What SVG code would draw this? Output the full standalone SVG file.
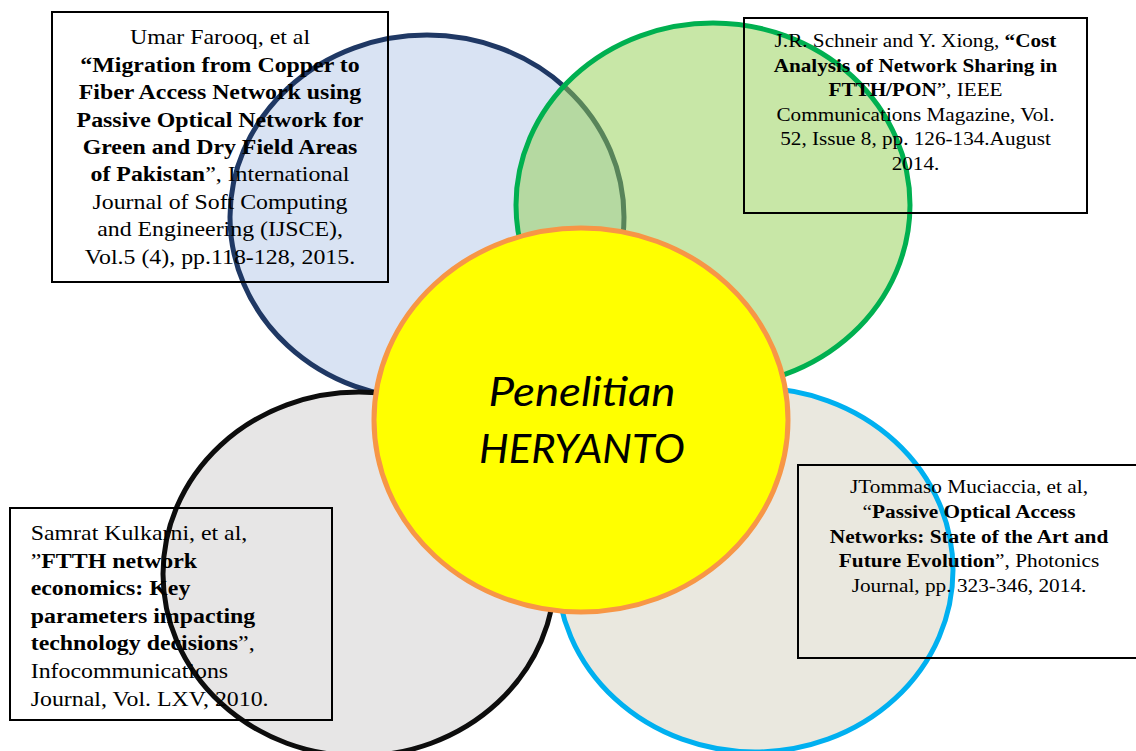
<svg xmlns="http://www.w3.org/2000/svg" width="1136" height="751" viewBox="0 0 1136 751">
<style>
.ref{font-family:"Liberation Serif","Times New Roman",serif;fill:#000}
.b{font-weight:bold}
.box{fill:none;stroke:#000;stroke-width:2}
.ring{stroke-width:5}
.ctr{font-family:Lato,"Open Sans",sans-serif;font-style:italic;font-size:40.5px;fill:#000}
</style>
<rect width="1136" height="751" fill="#fff"/>
<g id="circle-blue"><ellipse class="ring" cx="427" cy="217" rx="197" ry="182" fill="#B4C7E7" fill-opacity="0.5" stroke="#1F3864"/></g>
<g id="circle-green"><ellipse class="ring" cx="713" cy="205" rx="197" ry="182" fill="#92D050" fill-opacity="0.5" stroke="#00B050"/></g>
<g id="circle-grey"><ellipse class="ring" cx="359" cy="574" rx="196" ry="182" fill="#D0CECE" fill-opacity="0.5" stroke="#0D0D0D"/></g>
<g id="circle-cream"><ellipse class="ring" cx="755" cy="570" rx="198" ry="182" fill="#D5D1BF" fill-opacity="0.5" stroke="#00B0F0"/></g>
<g id="center">
<ellipse class="ring" cx="581" cy="420" rx="207" ry="192" fill="#FFFF00" stroke="#F79646"/>
<text class="ctr" x="582" y="406" text-anchor="middle" textLength="187" lengthAdjust="spacingAndGlyphs">Penelitian</text>
<text class="ctr" x="582" y="463.3" text-anchor="middle" textLength="206" lengthAdjust="spacingAndGlyphs">HERYANTO</text>
</g>
<g id="connectors"></g>
<g id="ref-farooq">
<rect class="box" x="52" y="12" width="336" height="270"/>
<g class="ref" transform="translate(220 0) scale(1.12 1)" text-anchor="middle" font-size="21.3">
<text y="44.5">Umar Farooq, et al</text>
<text y="71.9" class="b">“Migration from Copper to</text>
<text y="99.3" class="b">Fiber Access Network using</text>
<text y="126.7" class="b">Passive Optical Network for</text>
<text y="154.1" class="b">Green and Dry Field Areas</text>
<text y="181.5"><tspan class="b">of Pakistan</tspan>”, International</text>
<text y="208.9">Journal of Soft Computing</text>
<text y="236.3">and Engineering (IJSCE),</text>
<text y="263.7">Vol.5 (4), pp.118-128, 2015.</text>
</g>
</g>
<g id="ref-schneir">
<rect class="box" x="744" y="18" width="343" height="195"/>
<g class="ref" transform="translate(915.5 0) scale(1.11 1)" text-anchor="middle" font-size="19.1">
<text y="47">J.R. Schneir and Y. Xiong, <tspan class="b">“Cost</tspan></text>
<text y="71.6" class="b">Analysis of Network Sharing in</text>
<text y="96.2"><tspan class="b">FTTH/PON</tspan>”, IEEE</text>
<text y="120.8">Communications Magazine, Vol.</text>
<text y="145.4">52, Issue 8, pp. 126-134.August</text>
<text y="170">2014.</text>
</g>
</g>
<g id="ref-kulkarni">
<rect class="box" x="10" y="508" width="322" height="212"/>
<g class="ref" transform="translate(30.7 0) scale(1.12 1)" text-anchor="start" font-size="21.3">
<text y="540">Samrat Kulkarni, et al,</text>
<text y="567.6">”<tspan class="b">FTTH network</tspan></text>
<text y="595.2" class="b">economics: Key</text>
<text y="622.8" class="b">parameters impacting</text>
<text y="650.4"><tspan class="b">technology decisions</tspan>”,</text>
<text y="678">Infocommunications</text>
<text y="705.6">Journal, Vol. LXV, 2010.</text>
</g>
</g>
<g id="ref-muciaccia">
<rect class="box" x="798" y="465" width="342" height="193"/>
<g class="ref" transform="translate(969 0) scale(1.115 1)" text-anchor="middle" font-size="19.1">
<text y="493.3">JTommaso Muciaccia, et al,</text>
<text y="518">“<tspan class="b">Passive Optical Access</tspan></text>
<text y="542.7" class="b">Networks: State of the Art and</text>
<text y="567.4"><tspan class="b">Future Evolution</tspan>”, Photonics</text>
<text y="592.1">Journal, pp. 323-346, 2014.</text>
</g>
</g>
</svg>
